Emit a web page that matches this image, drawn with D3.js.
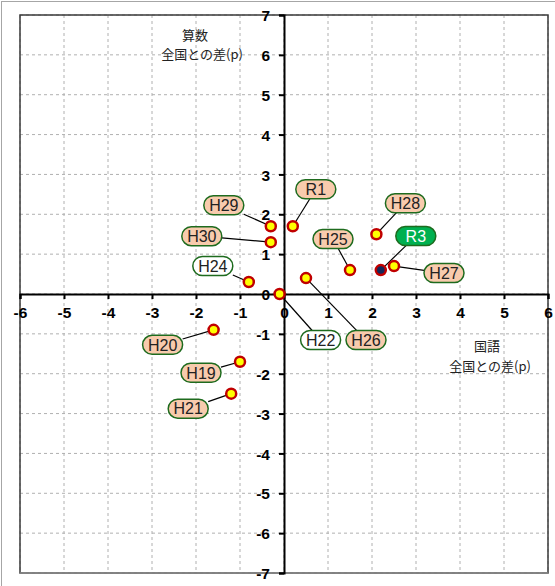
<!DOCTYPE html>
<html>
<head>
<meta charset="utf-8">
<script src="https://cdn.jsdelivr.net/npm/d3@7"></script>
<style>
  body { margin: 0; background: #fff; }
  svg { display: block; }
</style>
</head>
<body>
<script>
// data: 国語 (x) and 算数 (y), difference from national average
const names  = ["H19", "H20", "H21", "H22", "H24", "H25", "H26", "H27", "H28", "H29", "H30", "R1", "R3"];
const kokugo = [-1.0, -1.6, -1.2, -0.1, -0.8, 1.5, 0.5, 2.5, 2.1, -0.3, -0.3, 0.2, 2.2];
const sansu  = [-1.7, -0.9, -2.5, 0.0, 0.3, 0.6, 0.4, 0.7, 1.5, 1.7, 1.3, 1.7, 0.6];
const xTicks = d3.range(-6, 7);
const yTicks = d3.range(-7, 8);

// label placement (pixel offset from the point) - layout only
const labelOffset = {
  H19: [-39, 11], H20: [-51, 15], H21: [-43, 15], H22: [41, 46], H24: [-36, -16],
  H25: [-17, -31], H26: [60, 62], H27: [50, 7], H28: [29, -31], H29: [-47, -21],
  H30: [-69, -6], R1: [23, -37], R3: [35, -34]
};
const whiteLabels = ["H22", "H24"];
const current = "R3";

const W = 555, H = 586;
const plot = {left: 20, top: 15, right: 548, bottom: 573};

const svg = d3.select('body').append('svg')
  .attr('width', W)
  .attr('height', H);

const x = d3.scaleLinear().domain([-6, 6]).range([plot.left, plot.right]);
const y = d3.scaleLinear().domain([-7, 7]).range([plot.bottom, plot.top]);

// outer chart frame
svg.append('rect')
  .attr('x', 1.5).attr('y', 1.5)
  .attr('width', W + 10).attr('height', H + 10)
  .attr('fill', 'none').attr('stroke', '#a6a6a6').attr('stroke-width', 1);

// grid
const grid = svg.append('g');
grid.selectAll('line.gx').data(xTicks).join('line')
  .attr('x1', d => x(d)).attr('x2', d => x(d))
  .attr('y1', plot.top).attr('y2', plot.bottom)
  .attr('stroke', '#b0b0b0').attr('stroke-dasharray', '3,3');
grid.selectAll('line.gy').data(yTicks).join('line')
  .attr('y1', d => y(d)).attr('y2', d => y(d))
  .attr('x1', plot.left).attr('x2', plot.right)
  .attr('stroke', '#b0b0b0').attr('stroke-dasharray', '3,3');

// plot area frame
svg.append('rect')
  .attr('x', plot.left).attr('y', plot.top)
  .attr('width', plot.right - plot.left).attr('height', plot.bottom - plot.top)
  .attr('fill', 'none').attr('stroke', '#3a3a3a').attr('stroke-width', 1.5);
svg.append('line')
  .attr('x1', plot.left).attr('x2', plot.right)
  .attr('y1', plot.bottom).attr('y2', plot.bottom)
  .attr('stroke', '#8c8c8c').attr('stroke-width', 1.5);

// axes crossing at 0 (plain hyphen for negatives, like the original)
const fmt = d => String(d);
const xAxis = svg.append('g')
  .attr('transform', `translate(0,${y(0)})`)
  .call(d3.axisBottom(x).tickValues(xTicks).tickSize(5).tickPadding(8).tickFormat(fmt));
const yAxis = svg.append('g')
  .attr('transform', `translate(${x(0)},0)`)
  .call(d3.axisLeft(y).tickValues(yTicks).tickSize(5).tickPadding(9).tickFormat(fmt));

[xAxis, yAxis].forEach(a => {
  a.select('.domain').attr('stroke', '#000').attr('stroke-width', 2);
  a.selectAll('.tick line').attr('stroke', '#000').attr('stroke-width', 2);
  a.selectAll('.tick text')
    .attr('fill', '#000')
    .style('font-family', '"Liberation Sans", Arial, sans-serif')
    .style('font-size', '15.5px')
    .style('font-weight', 'bold');
});
yAxis.selectAll('.tick text').attr('dy', '0.36em');

// axis titles
const titleFont = '"Noto Sans CJK JP", sans-serif';
function title(lines) {
  lines.forEach(([t, tx, ty]) => {
    svg.append('text')
      .attr('x', tx).attr('y', ty)
      .attr('text-anchor', 'middle')
      .style('font-family', titleFont).style('font-size', '13px')
      .attr('fill', '#222')
      .text(t);
  });
}
title([['算数', 195, 40], ['全国との差(p)', 202, 59]]);
title([['国語', 487, 351], ['全国との差(p)', 490, 371]]);

// point + label records
const pts = names.map((n, i) => {
  const px = x(kokugo[i]), py = y(sansu[i]);
  const off = labelOffset[n];
  return {name: n, px, py, lx: px + off[0], ly: py + off[1]};
});

const bw = 40, bh = 19;

// leader lines, clipped at the label box edge
svg.append('g').selectAll('line').data(pts).join('line')
  .each(function(d) {
    const dx = d.px - d.lx, dy = d.py - d.ly;
    const t = Math.min(dx ? (bw / 2) / Math.abs(dx) : Infinity, dy ? (bh / 2) / Math.abs(dy) : Infinity);
    d3.select(this)
      .attr('x1', d.lx + dx * t).attr('y1', d.ly + dy * t)
      .attr('x2', d.px).attr('y2', d.py);
  })
  .attr('stroke', '#000').attr('stroke-width', 1.2);

// points
svg.append('g').selectAll('circle').data(pts).join('circle')
  .attr('cx', d => d.px).attr('cy', d => d.py)
  .attr('r', 5)
  .attr('fill', d => d.name === current ? '#14285a' : '#ffff00')
  .attr('stroke', '#c00000').attr('stroke-width', 2.5);

// labels
const lab = svg.append('g').selectAll('g').data(pts).join('g')
  .attr('transform', d => `translate(${d.lx},${d.ly})`);
lab.append('rect')
  .attr('x', -bw / 2).attr('y', -bh / 2)
  .attr('width', bw).attr('height', bh)
  .attr('rx', 9.5).attr('ry', 9.5)
  .attr('fill', d => d.name === current ? '#00b050' : whiteLabels.includes(d.name) ? '#fff' : '#f8cbad')
  .attr('stroke', '#1e6b1e').attr('stroke-width', 1.5);
lab.append('text')
  .attr('text-anchor', 'middle').attr('dy', '0.36em')
  .style('font-family', '"Liberation Sans", Arial, sans-serif')
  .style('font-size', '16px')
  .attr('fill', d => d.name === current ? '#fff' : '#222')
  .text(d => d.name);
</script>
</body>
</html>
